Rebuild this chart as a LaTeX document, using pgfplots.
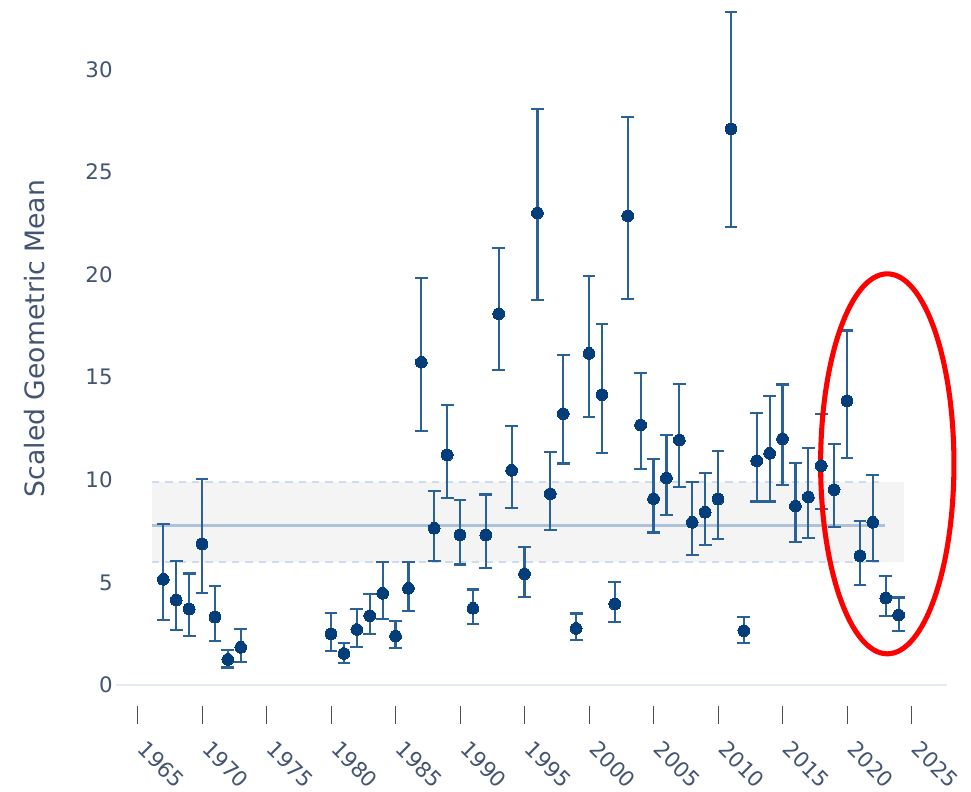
\documentclass[border=0pt]{standalone}
\usepackage{fontspec}
\setmainfont{DejaVu Sans}
\usepackage{pgfplots}
\usepackage{pgfplotstable}
\pgfplotsset{compat=1.18}

\definecolor{markblue}{RGB}{3,62,122}
\definecolor{barblue}{RGB}{42,98,152}
\definecolor{labelgray}{RGB}{66,84,112}
\definecolor{zeroline}{RGB}{228,234,244}
\definecolor{bandfill}{RGB}{244,244,244}
\definecolor{banddash}{RGB}{204,219,237}
\definecolor{meanline}{RGB}{172,194,218}

% year, scaled geometric mean, upper and lower bound of the interval
\pgfplotstableread{
year y     hi    lo
1967 5.15  7.83  3.17
1968 4.14  6.04  2.67
1969 3.70  5.44  2.40
1970 6.87  10.04 4.50
1971 3.31  4.81  2.16
1972 1.25  1.71  0.86
1973 1.84  2.73  1.14
1980 2.49  3.52  1.67
1981 1.54  2.06  1.09
1982 2.71  3.70  1.84
1983 3.38  4.43  2.50
1984 4.47  5.99  3.22
1985 2.39  3.12  1.79
1986 4.71  5.99  3.61
1987 15.73 19.82 12.38
1988 7.64  9.44  6.06
1989 11.21 13.65 9.13
1990 7.31  9.03  5.88
1991 3.74  4.66  2.96
1992 7.31  9.29  5.70
1993 18.09 21.30 15.34
1994 10.46 12.61 8.64
1995 5.42  6.73  4.30
1996 23.00 28.07 18.76
1997 9.32  11.37 7.55
1998 13.22 16.08 10.80
1999 2.76  3.49  2.19
2000 16.16 19.92 13.05
2001 14.15 17.59 11.31
2002 3.95  5.03  3.07
2003 22.86 27.68 18.81
2004 12.67 15.19 10.54
2005 9.08  11.00 7.44
2006 10.09 12.17 8.30
2007 11.94 14.67 9.65
2008 7.93  9.89  6.32
2009 8.42  10.32 6.81
2010 9.06  11.40 7.12
2011 27.10 32.80 22.32
2012 2.65  3.31  2.06
2013 10.93 13.24 8.95
2014 11.29 14.10 8.95
2015 12.00 14.65 9.76
2016 8.72  10.82 6.97
2017 9.16  11.56 7.18
2018 10.69 13.21 8.59
2019 9.52  11.73 7.69
2020 13.85 17.27 11.06
2021 6.30  7.99  4.87
2022 7.93  10.25 6.04
2023 4.24  5.31  3.35
2024 3.41  4.27  2.65
}\gmdata

\begin{document}
\begin{tikzpicture}
\path[use as bounding box] (-87pt,-64.5pt) rectangle (641.25pt,529.5pt);
\begin{axis}[
  scale only axis,
  width=623.25pt, height=529.5pt,
  xmin=1963.33, xmax=2027.75,
  ymin=-1.02, ymax=33.38,
  clip=false,
  axis line style={draw=none},
  xtick={1965,1970,1975,1980,1985,1990,1995,2000,2005,2010,2015,2020,2025},
  xticklabels={1965,1970,1975,1980,1985,1990,1995,2000,2005,2010,2015,2020,2025},
  scaled x ticks=false,
  ytick={0,5,10,15,20,25,30},
  xtick pos=bottom, ytick pos=left,
  tick align=outside,
  major tick length=13.5pt,
  x tick style={draw=black!70, line width=0.8pt},
  y tick style={draw=none},
  /pgf/number format/assume math mode=true,
  ticklabel style={font=\fontsize{16pt}{19pt}\selectfont, text=labelgray},
  xticklabel style={xshift=1pt, yshift=-13.5pt, rotate=-45, anchor=west},
  yticklabel style={xshift=14.5pt},
  ylabel={Scaled Geometric Mean},
  ylabel style={at={(rel axis cs:-0.0975,0.5205)}, anchor=center,
    font=\fontsize{20pt}{23pt}\selectfont, text=labelgray},
]

% reference band and its mean
\addplot[draw=none, fill=bandfill] coordinates
  {(1966.12,6.01) (2024.4,6.01) (2024.4,9.88) (1966.12,9.88)} -- cycle;
\addplot[banddash, line width=1.5pt, dash pattern=on 5.5pt off 4.5pt] coordinates
  {(1966.12,9.88) (2022.93,9.88)};
\addplot[banddash, line width=1.5pt, dash pattern=on 5.5pt off 4.5pt] coordinates
  {(1966.12,6.01) (2022.93,6.01)};
\addplot[meanline, line width=2pt] coordinates
  {(1966.12,7.76) (2022.93,7.76)};

% zero line
\addplot[zeroline, line width=1.6pt] coordinates {(1963.33,0) (2027.75,0)};

% yearly values with their intervals
\addplot[only marks, mark=*, mark size=4.4pt,
  mark options={fill=markblue, draw=markblue, line width=0pt},
  error bars/.cd, y dir=both, y explicit, error mark=|,
  error bar style={line width=1.7pt, barblue},
  error mark options={line width=1.7pt, mark size=4.8pt, barblue}]
  table[x=year, y=y,
        y error plus expr=\thisrow{hi}-\thisrow{y},
        y error minus expr=\thisrow{y}-\thisrow{lo}] {\gmdata};

% highlight of the latest years
\draw[red, line width=3.8pt] (axis cs:2023.12,10.78) ellipse [x radius=50pt, y radius=142.5pt];
\end{axis}
\end{tikzpicture}
\end{document}
